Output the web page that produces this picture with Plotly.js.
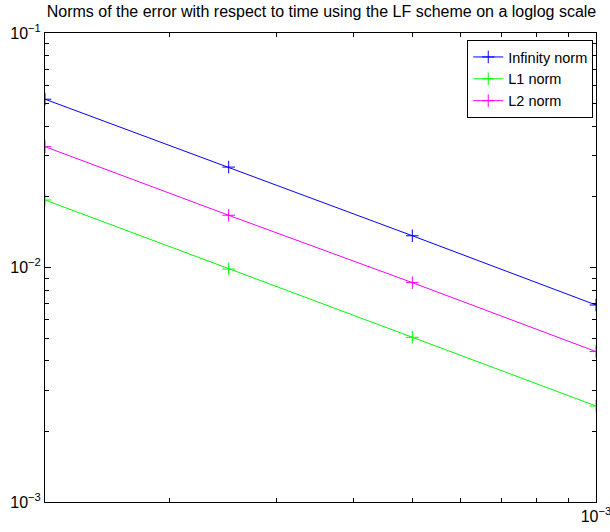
<!DOCTYPE html>
<html>
<head>
<meta charset="utf-8">
<script src="https://cdn.plot.ly/plotly-3.0.1.min.js"></script>
<style>html,body{margin:0;padding:0;background:#fff;}#chart{width:610px;height:532px;}</style>
</head>
<body>
<div id="chart"></div>
<script>
// Data (log-log)
const timeSteps = [1.25e-4, 2.5e-4, 5e-4, 1e-3];
const infNorm = [0.0522, 0.0268, 0.01366, 0.00692];
const l1Norm  = [0.0194, 0.00985, 0.00504, 0.002567];
const l2Norm  = [0.03275, 0.0167, 0.00862, 0.00438];
const seriesNames = ['Infinity norm', 'L1 norm', 'L2 norm'];
const seriesColors = ['#0000ff', '#00ff00', '#ff00ff'];
const yTickVals = [1e-3, 1e-2, 1e-1];
const yTickText = ['10<sup>−3</sup>', '10<sup>−2</sup>', '10<sup>−1</sup>'];
const xTickVals = [1e-3];
const xTickText = ['10<sup>−3</sup>'];

const yMinor = [];
[1e-3, 1e-2].forEach(d => { for (let k = 2; k <= 9; k++) yMinor.push(k * d); });
const xMinor = [];
for (let k = 2; k <= 9; k++) xMinor.push(k * 1e-4);

const series = [infNorm, l1Norm, l2Norm];
const traces = series.map((vals, i) => ({
  x: timeSteps, y: vals, type: 'scatter', mode: 'lines+markers',
  name: seriesNames[i],
  line: {color: seriesColors[i], width: 1},
  marker: {symbol: 'cross-thin-open', size: 9, line: {color: seriesColors[i], width: 1}}
}));

const font = {family: 'Liberation Sans, Arial, sans-serif', size: 15, color: '#000'};
const axisCommon = {
  type: 'log', showgrid: false, zeroline: false, showline: true,
  linecolor: '#000', linewidth: 1, mirror: 'allticks',
  ticks: 'inside', ticklen: 6, tickcolor: '#000', tickmode: 'array',
  ticklabeloverflow: 'allow',
  tickfont: {family: font.family, size: 16, color: '#000'}
};
const layout = {
  width: 610, height: 532,
  margin: {l: 45, r: 14, t: 33, b: 30},
  paper_bgcolor: '#fff', plot_bgcolor: '#fff',
  font: font,
  title: {text: 'Norms of the error with respect to time using the LF scheme on a loglog scale',
          font: {family: font.family, size: 16, color: '#000'},
          x: 0.527, xanchor: 'center', y: 0.978, yanchor: 'middle'},
  xaxis: Object.assign({}, axisCommon, {
    range: [Math.log10(1.25e-4), -3], tickvals: xTickVals, ticktext: xTickText,
    minor: {tickmode: 'array', tickvals: xMinor, ticks: 'inside', ticklen: 4, tickcolor: '#000', showgrid: false}
  }),
  yaxis: Object.assign({}, axisCommon, {
    range: [-3, -1], tickvals: yTickVals, ticktext: yTickText,
    minor: {tickmode: 'array', tickvals: yMinor, ticks: 'inside', ticklen: 4, tickcolor: '#000', showgrid: false}
  }),
  legend: {
    x: 0.995, xanchor: 'right', y: 0.985, yanchor: 'top',
    bgcolor: '#fff', bordercolor: '#000', borderwidth: 1,
    font: {family: font.family, size: 14.5, color: '#000'},
    tracegroupgap: 0
  },
  showlegend: true
};
Plotly.newPlot('chart', traces, layout, {staticPlot: true, displayModeBar: false});
</script>
</body>
</html>
